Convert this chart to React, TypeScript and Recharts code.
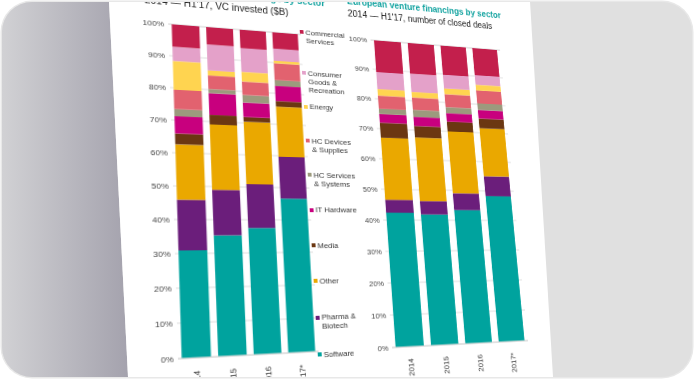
import React from 'react';
import { BarChart, Bar, XAxis, YAxis, CartesianGrid } from 'recharts';

// ---------- data ----------
const years = ['2014', '2015', '2016', '2017*'];
const pctTicks = [0, 10, 20, 30, 40, 50, 60, 70, 80, 90, 100];

// Left chart: VC invested ($B), share by sector (%)
const vcSoftware = [30.9, 35.3, 37.5, 46.6];
const vcPharma = [15.0, 13.7, 13.4, 13.1];
const vcOther = [16.7, 20.1, 19.5, 16.0];
const vcMedia = [3.3, 3.0, 1.5, 1.8];
const vcItHardware = [5.3, 6.8, 4.6, 4.9];
const vcHcServices = [2.2, 1.3, 2.4, 1.9];
const vcHcDevices = [6.0, 4.3, 4.3, 5.5];
const vcEnergy = [9.0, 1.6, 3.1, 0.8];
const vcConsumer = [4.5, 8.3, 7.7, 4.0];
const vcCommercial = [7.1, 5.6, 6.0, 5.4];

// Right chart: number of closed deals, share by sector (%)
const dealSoftware = [42.4, 41.9, 43.4, 48.2];
const dealPharma = [4.2, 4.4, 5.6, 6.8];
const dealOther = [20.4, 21.2, 21.0, 16.6];
const dealMedia = [5.0, 3.9, 3.4, 3.4];
const dealItHardware = [2.9, 3.1, 2.9, 3.0];
const dealHcServices = [1.8, 2.4, 2.1, 2.3];
const dealHcDevices = [4.4, 4.2, 4.5, 4.6];
const dealEnergy = [2.2, 1.9, 2.0, 2.0];
const dealConsumer = [5.8, 6.3, 4.8, 3.4];
const dealCommercial = [10.9, 10.7, 10.3, 9.7];

// series order: bottom -> top
const seriesKeys = ['software', 'pharma', 'other', 'media', 'itHardware', 'hcServices', 'hcDevices', 'energy', 'consumer', 'commercial'];
const seriesNames = ['Software', 'Pharma &\nBiotech', 'Other', 'Media', 'IT Hardware', 'HC Services\n& Systems', 'HC Devices\n& Supplies', 'Energy', 'Consumer\nGoods &\nRecreation', 'Commercial\nServices'];
const seriesColors = ['#00a39e', '#6b1e7b', '#eaa800', '#6b3712', '#c8007e', '#9c9a7d', '#e2626f', '#ffd450', '#e4a1c9', '#c31f4c'];

const vcSeries = [vcSoftware, vcPharma, vcOther, vcMedia, vcItHardware, vcHcServices, vcHcDevices, vcEnergy, vcConsumer, vcCommercial];
const dealSeries = [dealSoftware, dealPharma, dealOther, dealMedia, dealItHardware, dealHcServices, dealHcDevices, dealEnergy, dealConsumer, dealCommercial];

const buildRows = (series: number[][]) =>
  years.map((year, i) => {
    const row: Record<string, string | number> = { year };
    seriesKeys.forEach((k, s) => { row[k] = series[s][i]; });
    return row;
  });

const vcData = buildRows(vcSeries);
const dealData = buildRows(dealSeries);

// ---------- perspective (photo) mapping ----------
const FONT = '"Liberation Sans", Arial, sans-serif';
const TOP = 60;
const PLOT_H = 330;
const CHART_H = TOP + PLOT_H + 50;

function solve(A: number[][], b: number[]): number[] {
  const n = b.length;
  const M = A.map((r, i) => [...r, b[i]]);
  for (let c = 0; c < n; c++) {
    let p = c;
    for (let r = c + 1; r < n; r++) if (Math.abs(M[r][c]) > Math.abs(M[p][c])) p = r;
    [M[c], M[p]] = [M[p], M[c]];
    for (let r = 0; r < n; r++) {
      if (r === c) continue;
      const f = M[r][c] / M[c][c];
      for (let k = c; k <= n; k++) M[r][k] -= f * M[c][k];
    }
  }
  return M.map((r, i) => r[n] / r[i]);
}

function homography(src: number[][], dst: number[][]) {
  const A: number[][] = [];
  const b: number[] = [];
  for (let i = 0; i < 4; i++) {
    const [x, y] = src[i];
    const [u, v] = dst[i];
    A.push([x, y, 1, 0, 0, 0, -x * u, -y * u]); b.push(u);
    A.push([0, 0, 0, x, y, 1, -x * v, -y * v]); b.push(v);
  }
  const [a, bb, c, d, e, f, g, h] = solve(A, b);
  return `matrix3d(${a},${d},0,${g},${bb},${e},0,${h},0,0,1,0,${c},${f},0,1)`;
}

// layout of the flat sheet
const LEFT_Y_W = 62;
const LEFT_PLOT_W = 135;
const RIGHT_X = 243.5;
const RIGHT_Y_W = 30;
const RIGHT_PLOT_W = 156;
const leftBar1 = LEFT_Y_W + 0.025 * LEFT_PLOT_W;
const rightBar4 = RIGHT_X + RIGHT_Y_W + 0.975 * RIGHT_PLOT_W;

const FLAT = [[leftBar1, TOP], [rightBar4, TOP], [rightBar4, TOP + PLOT_H], [leftBar1, TOP + PLOT_H]];
const PHOTO = [[169.7, 22.3], [494.7, 48], [522.3, 338.7], [179.7, 356.5]];
const warp = homography(FLAT, PHOTO);

// ---------- components ----------
const YearTick = (props: any) => {
  const { x, y, payload } = props;
  return (
    <text x={x} y={y + 4} transform={`rotate(-90, ${x}, ${y + 4})`} textAnchor="end" dy="0.35em" fontSize={8} fill="#333" fontFamily={FONT}>
      {payload.value}
    </text>
  );
};

const StackChart = ({ data, yWidth, plotW }: { data: any[]; yWidth: number; plotW: number }) => (
  <BarChart width={yWidth + plotW + 5} height={CHART_H} data={data} margin={{ top: TOP, right: 5, bottom: 0, left: 0 }} barCategoryGap="10%">
    <CartesianGrid vertical={false} stroke="#dedede" />
    <XAxis dataKey="year" axisLine={{ stroke: '#d6d6d6' }} tickLine={false} interval={0} height={50} tick={<YearTick />} />
    <YAxis
      domain={[0, 100]}
      ticks={pctTicks}
      interval={0}
      tickFormatter={(v: number) => `${v}%`}
      axisLine={false}
      tickLine={false}
      tickSize={2}
      width={yWidth}
      tick={{ fontSize: 8, fill: '#444', fontFamily: FONT }}
    />
    {seriesKeys.map((k, i) => (
      <Bar key={k} dataKey={k} stackId="s" fill={seriesColors[i]} isAnimationActive={false} />
    ))}
  </BarChart>
);

const SectorLegend = () => (
  <div style={{ position: 'absolute', left: 196, top: 0, width: 60, height: CHART_H, fontFamily: FONT, fontSize: 8, color: '#333', lineHeight: '9px' }}>
    {[...seriesKeys].reverse().map((k, idx) => {
      const i = seriesKeys.length - 1 - idx;
      const cy = idx === 0 ? TOP - 3 : TOP + 6 + (idx * (PLOT_H - 3)) / 9;
      return (
        <div key={k} style={{ position: 'absolute', left: 0, top: cy - 4.5, display: 'flex', alignItems: 'flex-start' }}>
          <span style={{ display: 'inline-block', width: 4, height: 4, background: seriesColors[i], marginTop: 2.5, marginRight: 2, flex: 'none' }} />
          <span style={{ whiteSpace: 'pre' }}>{seriesNames[i]}</span>
        </div>
      );
    })}
  </div>
);

const Title = ({ left, top, sub }: { left: number; top: number; sub: string }) => (
  <div style={{ position: 'absolute', left, top, fontFamily: FONT, fontSize: 10, lineHeight: '14px', whiteSpace: 'nowrap' }}>
    <div style={{ color: '#13a3a0', fontWeight: 'bold' }}>European venture financings by sector</div>
    <div style={{ color: '#222' }}>{sub}</div>
  </div>
);

export default function App() {
  return (
    <div style={{ position: 'fixed', left: 0, top: 0, width: 694, height: 380, background: '#ffffff', overflow: 'hidden' }}>
      <div style={{ position: 'absolute', left: 2, top: 2, width: 690, height: 375, borderRadius: 30, overflow: 'hidden', boxShadow: '0 0 0 1.5px #e8e8e8', background: '#e0e0e0' }}>
        <svg width={690} height={375} style={{ position: 'absolute', left: 0, top: 0 }}>
          <defs>
            <linearGradient id="shade" x1="0" y1="0" x2="1" y2="0">
              <stop offset="0" stopColor="#d1d1d4" />
              <stop offset="1" stopColor="#a4a2ad" />
            </linearGradient>
          </defs>
          <polygon points="0,0 107,0 126,375 0,375" fill="url(#shade)" />
          <polygon points="107,0 528,0 551,375 126,375" fill="#ffffff" />
        </svg>
        <div style={{ position: 'absolute', left: 0, top: 0, width: 440, height: CHART_H, transformOrigin: '0 0', transform: warp }}>
          <Title left={40} top={16} sub="2014 — H1'17, VC invested ($B)" />
          <Title left={250} top={11} sub="2014 — H1'17, number of closed deals" />
          <div style={{ position: 'absolute', left: 0, top: 0 }}>
            <StackChart data={vcData} yWidth={LEFT_Y_W} plotW={LEFT_PLOT_W} />
          </div>
          <SectorLegend />
          <div style={{ position: 'absolute', left: RIGHT_X, top: 0 }}>
            <StackChart data={dealData} yWidth={RIGHT_Y_W} plotW={RIGHT_PLOT_W} />
          </div>
        </div>
      </div>
    </div>
  );
}
